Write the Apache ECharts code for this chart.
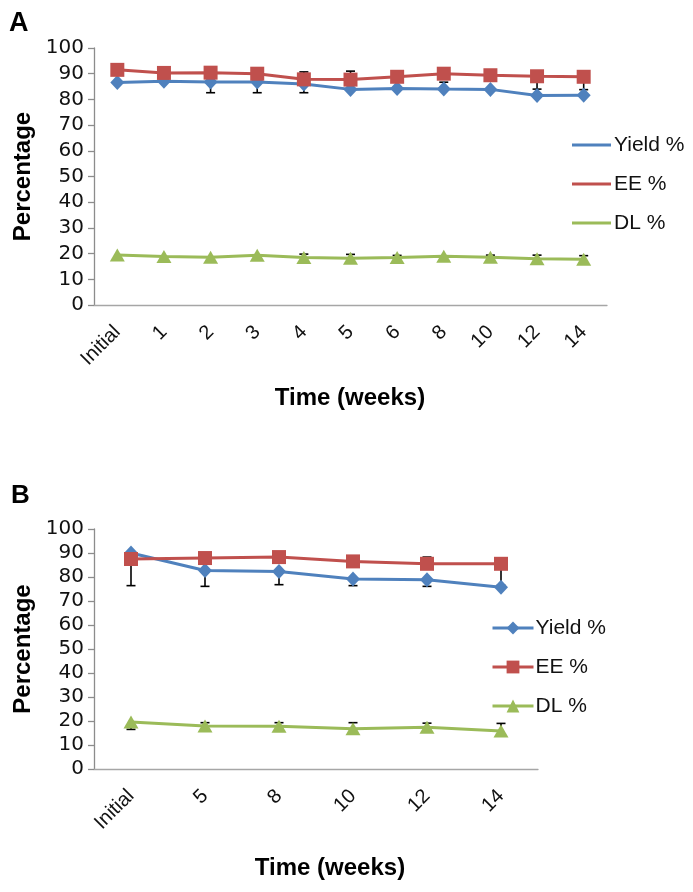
<!DOCTYPE html>
<html>
<head>
<meta charset="utf-8">
<script src="https://cdn.jsdelivr.net/npm/echarts@6/dist/echarts.min.js"></script>
<style>html,body{margin:0;padding:0;background:#fff;}#c{width:693px;height:892px;}</style>
</head>
<body>
<div id="c"></div>
<script>
// ---- Data: panel A ----
const catsA = ['Initial','1','2','3','4','5','6','8','10','12','14'];
const yieldA = [86.6, 87.1, 86.8, 86.8, 86.0, 83.9, 84.2, 84.0, 83.9, 81.5, 81.6];
const eeA    = [91.5, 90.3, 90.4, 90.0, 87.8, 87.7, 88.8, 90.0, 89.4, 89.0, 88.8];
const dlA    = [19.5, 18.9, 18.6, 19.4, 18.5, 18.2, 18.5, 19.0, 18.6, 18.0, 17.8];
const yieldAMinus = [0, 0, 4.2, 4.2, 3.4, 0, 0, 0, 0, 0, 0];
const yieldAPlus  = [0, 0, 0, 0, 0, 0, 0, 2.7, 0, 0, 0];
const eeAMinus    = [0, 0, 0, 0, 0, 0, 0, 0, 0, 5, 5];
const eeAPlus     = [0, 0, 0, 0, 2.9, 3.3, 0, 0, 0, 0, 0];
const dlAMinus    = [0, 0, 0, 0, 0, 0, 0, 0, 0, 0, 0];
const dlAPlus     = [0, 0, 0, 0, 1.3, 1.5, 0.8, 0, 0.8, 1.4, 1.4];

// ---- Data: panel B ----
const catsB = ['Initial','5','8','10','12','14'];
const yieldB = [90.0, 82.7, 82.3, 79.2, 78.9, 75.7];
const eeB    = [87.5, 87.9, 88.3, 86.5, 85.5, 85.5];
const dlB    = [19.6, 17.9, 17.8, 16.8, 17.4, 15.8];
const yieldBMinus = [13.6, 6.6, 5.5, 2.8, 2.8, 0];
const yieldBPlus  = [0, 0, 0, 0, 0, 0];
const eeBMinus    = [0, 0, 0, 0, 0, 9];
const eeBPlus     = [0, 0, 0, 0, 2.8, 0];
const dlBMinus    = [3.1, 0, 0, 0, 0, 0];
const dlBPlus     = [0, 1.4, 1.5, 2.5, 1.7, 3.2];

const yTicks = [0,10,20,30,40,50,60,70,80,90,100];
const seriesNames = ['Yield %', 'EE %', 'DL %'];

const FONT = '"Liberation Sans", Arial, sans-serif';
const WIDEFONT = '"DejaVu Sans", "Liberation Sans", sans-serif';
const COL = {y: '#4F81BD', e: '#C0504D', d: '#9BBB59'};

function errData(vals, minus, plus) {
  const out = [];
  vals.forEach((v, i) => { if (minus[i] > 0 || plus[i] > 0) out.push([i, v, minus[i], plus[i]]); });
  return out;
}
let errCount = 0;
function errSeries(idx, data) {
  errCount++;
  return {
    type: 'custom', name: 'errbar' + errCount, xAxisIndex: idx, yAxisIndex: idx,
    z: 1, silent: true, data: data, encode: {x: 0, y: 1},
    renderItem: function (params, api) {
      const c = api.value(0), v = api.value(1), mn = api.value(2), pl = api.value(3);
      const lo = api.coord([c, v - mn]), hi = api.coord([c, v + pl]);
      const w = 4.5;
      const st = {stroke: '#000', lineWidth: 1.6};
      const kids = [{type: 'line', shape: {x1: lo[0], y1: lo[1], x2: hi[0], y2: hi[1]}, style: st}];
      if (mn > 0) kids.push({type: 'line', shape: {x1: lo[0]-w, y1: lo[1], x2: lo[0]+w, y2: lo[1]}, style: st});
      if (pl > 0) kids.push({type: 'line', shape: {x1: hi[0]-w, y1: hi[1], x2: hi[0]+w, y2: hi[1]}, style: st});
      return {type: 'group', children: kids};
    }
  };
}
function lineSeries(idx, name, data, color, symbol, size) {
  return {
    type: 'line', name: name, xAxisIndex: idx, yAxisIndex: idx, data: data,
    symbol: symbol, symbolSize: size, z: 3,
    lineStyle: {color: color, width: 3}, itemStyle: {color: color},
    emphasis: {disabled: true}, animation: false
  };
}
function yAx(idx) {
  return {
    type: 'value', gridIndex: idx, min: yTicks[0], max: yTicks[yTicks.length-1], interval: 10,
    name: 'Percentage', nameLocation: 'middle', nameRotate: 90, nameGap: 57,
    nameTextStyle: {fontFamily: FONT, fontWeight: 'bold', fontSize: 24, color: '#000'},
    axisLine: {show: true, lineStyle: {color: '#8c8c8c', width: 1.3}},
    axisTick: {show: true, length: 6, lineStyle: {color: '#8c8c8c', width: 1.3}},
    splitLine: {show: false},
    axisLabel: {fontFamily: WIDEFONT, fontSize: 20, color: '#111', margin: 10}
  };
}
function xAx(idx, cats) {
  return {
    type: 'category', gridIndex: idx, data: cats, boundaryGap: true,
    axisLine: {show: true, lineStyle: {color: '#a6a6a6', width: 1.3}},
    axisTick: {show: false},
    axisLabel: {fontFamily: FONT, fontSize: 20, color: '#111', rotate: 45, margin: 24, interval: 0}
  };
}

const chart = echarts.init(document.getElementById('c'), null, {renderer: 'canvas'});
const option = {
  animation: false,
  backgroundColor: '#fff',
  grid: [
    {left: 94, top: 48, width: 513, height: 257},
    {left: 94, top: 529, width: 444, height: 240}
  ],
  xAxis: [xAx(0, catsA), xAx(1, catsB)],
  yAxis: [yAx(0), yAx(1)],
  legend: [
    {
      orient: 'vertical', left: 567, top: 129, itemGap: 17, itemWidth: 39, itemHeight: 3,
      icon: 'rect', selectedMode: false, data: seriesNames,
      textStyle: {fontFamily: FONT, fontSize: 21, color: '#111', lineHeight: 22, padding: [0, 0, 0, -2]}
    },
    {
      orient: 'vertical', left: 486, top: 612, itemGap: 17, itemWidth: 41, itemHeight: 16,
      selectedMode: false, data: seriesNames,
      textStyle: {fontFamily: FONT, fontSize: 21, color: '#111', lineHeight: 22, padding: [0, 0, 0, -3]},
      lineStyle: {width: 3}
    }
  ],
  graphic: [
    {type: 'text', left: 9, top: 10, style: {text: 'A', font: 'bold 27px ' + FONT, fill: '#000'}},
    {type: 'text', left: 11, top: 483, style: {text: 'B', font: 'bold 26px ' + FONT, fill: '#000'}},
    {type: 'text', x: 350, y: 398, style: {text: 'Time (weeks)', font: 'bold 24px ' + FONT, fill: '#000', textAlign: 'center', textVerticalAlign: 'middle'}},
    {type: 'text', x: 330, y: 868, style: {text: 'Time (weeks)', font: 'bold 24px ' + FONT, fill: '#000', textAlign: 'center', textVerticalAlign: 'middle'}}
  ],
  series: [
    errSeries(0, errData(yieldA, yieldAMinus, yieldAPlus)),
    errSeries(0, errData(eeA, eeAMinus, eeAPlus)),
    errSeries(0, errData(dlA, dlAMinus, dlAPlus)),
    lineSeries(0, seriesNames[0], yieldA, COL.y, 'diamond', [14, 15]),
    lineSeries(0, seriesNames[1], eeA, COL.e, 'rect', 14),
    lineSeries(0, seriesNames[2], dlA, COL.d, 'triangle', [15, 13]),
    errSeries(1, errData(yieldB, yieldBMinus, yieldBPlus)),
    errSeries(1, errData(eeB, eeBMinus, eeBPlus)),
    errSeries(1, errData(dlB, dlBMinus, dlBPlus)),
    lineSeries(1, seriesNames[0], yieldB, COL.y, 'diamond', [14, 15]),
    lineSeries(1, seriesNames[1], eeB, COL.e, 'rect', 14),
    lineSeries(1, seriesNames[2], dlB, COL.d, 'triangle', [15, 13])
  ]
};
chart.setOption(option);
</script>
</body>
</html>
